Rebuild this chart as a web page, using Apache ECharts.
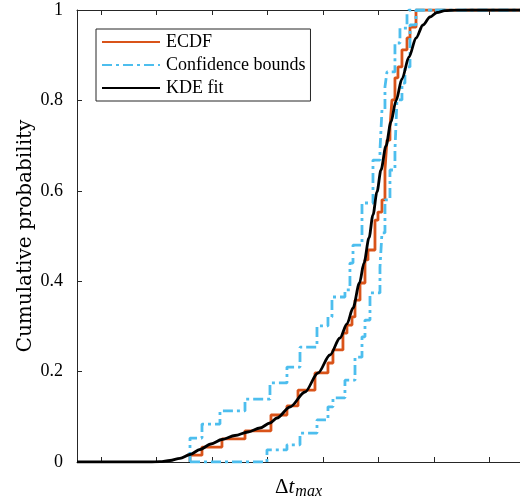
<!DOCTYPE html>
<html>
<head>
<meta charset="utf-8">
<script src="https://cdn.jsdelivr.net/npm/echarts@6/dist/echarts.min.js"></script>
<style>
html,body{margin:0;padding:0;background:#fff;}
#chart{width:520px;height:499px;}
</style>
</head>
<body>
<div id="chart"></div>
<script>
// x in tick units (ticks at integers), y = cumulative probability
const xMin = -0.432;
const xMax = 7.55;
const xTicks = [0, 1, 2, 3, 4, 5, 6, 7];
const yTicks = [0, 0.2, 0.4, 0.6, 0.8, 1];
const yTickLabels = ['0', '0.2', '0.4', '0.6', '0.8', '1'];

// ECDF jump positions and level after each jump
const ecdfX = [1.604, 1.820, 2.180, 2.595, 3.063, 3.351, 3.550, 3.856, 4.090, 4.180, 4.360, 4.432, 4.523, 4.577, 4.667, 4.757, 4.811, 4.937, 4.991, 5.063, 5.117, 5.153, 5.207, 5.243, 5.297, 5.351, 5.423, 5.514, 5.568, 5.676];
const ecdfY = [0.015, 0.033, 0.051, 0.069, 0.104, 0.124, 0.159, 0.197, 0.219, 0.248, 0.285, 0.303, 0.321, 0.358, 0.396, 0.447, 0.469, 0.535, 0.553, 0.580, 0.646, 0.712, 0.741, 0.801, 0.850, 0.874, 0.912, 0.938, 0.962, 1.000];

// Upper confidence bound
const upX = [1.604, 1.820, 2.144, 2.595, 3.045, 3.351, 3.586, 3.892, 4.090, 4.162, 4.396, 4.486, 4.541, 4.703, 4.901, 5.027, 5.063, 5.117, 5.153, 5.297, 5.387, 5.514, 5.550];
const upY = [0.053, 0.084, 0.113, 0.139, 0.175, 0.210, 0.254, 0.301, 0.321, 0.365, 0.381, 0.440, 0.480, 0.573, 0.668, 0.690, 0.779, 0.830, 0.863, 0.927, 0.960, 0.993, 1.000];

// Lower confidence bound
const loStart = 1.604;
const loX = [2.991, 3.351, 3.586, 3.892, 4.090, 4.180, 4.396, 4.577, 4.703, 4.757, 4.847, 5.027, 5.063, 5.117, 5.207, 5.297, 5.333, 5.423, 5.477, 5.568, 5.676];
const loY = [0.027, 0.038, 0.064, 0.093, 0.122, 0.142, 0.181, 0.232, 0.277, 0.314, 0.374, 0.431, 0.507, 0.580, 0.646, 0.690, 0.801, 0.838, 0.874, 0.967, 1.000];

// KDE fit curve
const kdeX = [-0.432, 0.883, 1.063, 1.243, 1.423, 1.604, 1.784, 1.982, 2.180, 2.414, 2.649, 2.865, 3.045, 3.171, 3.405, 3.676, 3.910, 4.126, 4.306, 4.432, 4.541, 4.658, 4.739, 4.829, 4.901, 4.973, 5.045, 5.135, 5.225, 5.315, 5.423, 5.550, 5.676, 5.802, 5.928, 6.054, 6.198, 6.378, 6.649, 7.550];
const kdeY = [0, 0, 0.0009, 0.0033, 0.0082, 0.0166, 0.0277, 0.0398, 0.0498, 0.0586, 0.0664, 0.0752, 0.0863, 0.0973, 0.1217, 0.1549, 0.1969, 0.2367, 0.2743, 0.3053, 0.3407, 0.3960, 0.4403, 0.4956, 0.5465, 0.5973, 0.6460, 0.6991, 0.7522, 0.7987, 0.8473, 0.8960, 0.9381, 0.9668, 0.9845, 0.9945, 0.9985, 0.9998, 1.000, 1.000];

const SERIF = "'Liberation Serif', 'DejaVu Serif', serif";
const AX = '#262626';
const ORANGE = '#D95319';
const BLUE = '#4DBEEE';
const DASHDOT = [10, 4, 3, 4];

function stairs(x0, y0, xs, ys, xEnd) {
  const d = [[x0, y0]];
  for (let i = 0; i < xs.length; i++) d.push([xs[i], ys[i]]);
  d.push([xEnd, ys[ys.length - 1]]);
  return d;
}

const chart = echarts.init(document.getElementById('chart'), null, {renderer: 'canvas'});
const option = {
  animation: false,
  backgroundColor: '#fff',
  grid: {left: 77, top: 10, right: 0, bottom: 37, containLabel: false, outerBoundsMode: 'none'},
  legend: {
    orient: 'vertical',
    left: 96, top: 29,
    padding: [4, 5, 4, 5],
    itemWidth: 58, itemHeight: 14, itemGap: 5,
    backgroundColor: '#fff',
    borderColor: AX, borderWidth: 1, borderRadius: 0,
    itemStyle: {opacity: 0},
    textStyle: {fontFamily: SERIF, fontSize: 18, color: '#000', padding: [0, 0, 0, 1]},
    data: ['ECDF', 'Confidence bounds', 'KDE fit']
  },
  xAxis: [{
    type: 'value', min: xMin, max: xMax, position: 'bottom',
    name: '{d|Δ}{t|t}{s|max}', nameLocation: 'middle', nameGap: 12,
    nameTextStyle: {
      rich: {
        d: {fontFamily: SERIF, fontSize: 21, color: '#000'},
        t: {fontFamily: SERIF, fontSize: 21, fontStyle: 'italic', color: '#000'},
        s: {fontFamily: SERIF, fontSize: 16, fontStyle: 'italic', color: '#000', padding: [10, 0, 0, 1]}
      }
    },
    axisLine: {show: true, onZero: false, lineStyle: {color: AX, width: 1}},
    axisTick: {show: true, inside: true, length: 5, customValues: xTicks, lineStyle: {color: AX}},
    axisLabel: {show: false},
    splitLine: {show: false}
  }, {
    type: 'value', min: xMin, max: xMax, position: 'top',
    axisLine: {show: true, onZero: false, lineStyle: {color: AX, width: 1}},
    axisTick: {show: true, inside: true, length: 5, customValues: xTicks, lineStyle: {color: AX}},
    axisLabel: {show: false},
    splitLine: {show: false}
  }],
  yAxis: {
    type: 'value', min: 0, max: 1, position: 'left',
    name: 'Cumulative probability', nameLocation: 'middle', nameGap: 41, nameRotate: 90,
    nameMoveOverlap: false,
    nameTextStyle: {fontFamily: "'DejaVu Serif', serif", fontSize: 20, color: '#000'},
    axisLine: {show: true, onZero: false, lineStyle: {color: AX, width: 1}},
    axisTick: {show: true, inside: true, length: 5, customValues: yTicks, lineStyle: {color: AX}},
    axisLabel: {show: true, margin: 14, fontFamily: SERIF, fontSize: 18, color: '#000',
      customValues: yTicks,
      formatter: function (v) { const i = yTicks.indexOf(v); return i >= 0 ? yTickLabels[i] : ''; }},
    splitLine: {show: false}
  },
  series: [{
    name: 'ECDF', type: 'line', step: 'end', symbol: 'none',
    data: stairs(ecdfX[0], 0, ecdfX, ecdfY, xMax),
    lineStyle: {color: ORANGE, width: 2.8}, itemStyle: {color: ORANGE}
  }, {
    name: 'Confidence bounds', type: 'line', step: 'end', symbol: 'none',
    data: stairs(upX[0], 0, upX, upY, xMax),
    lineStyle: {color: BLUE, width: 2.8, type: DASHDOT}, itemStyle: {color: BLUE}
  }, {
    name: 'Confidence bounds', type: 'line', step: 'end', symbol: 'none',
    data: stairs(loStart, 0, loX, loY, xMax),
    lineStyle: {color: BLUE, width: 2.8, type: DASHDOT}, itemStyle: {color: BLUE}
  }, {
    name: 'KDE fit', type: 'line', symbol: 'none', smooth: 0.3, smoothMonotone: 'x',
    data: kdeX.map((x, i) => [x, kdeY[i]]),
    lineStyle: {color: '#000', width: 2.8}, itemStyle: {color: '#000'}
  }]
};
chart.setOption(option);
</script>
</body>
</html>
